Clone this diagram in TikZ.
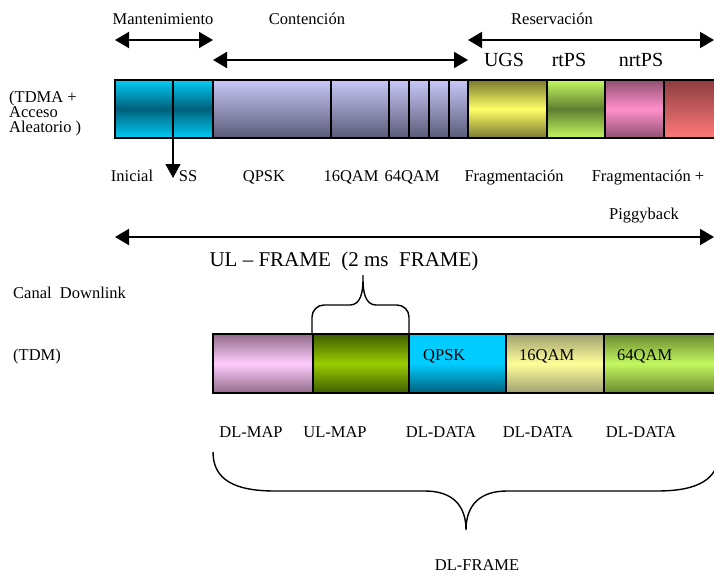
\documentclass[tikz,border=0pt]{standalone}
\usepackage{fontspec}
\setmainfont{Liberation Serif}
\usetikzlibrary{arrows.meta}
\definecolor{cyL}{HTML}{00CCF5}\definecolor{cyD}{HTML}{00607A}
\definecolor{puL}{HTML}{C8C8F8}\definecolor{puD}{HTML}{5A5A78}
\definecolor{ugL}{HTML}{FFFF66}\definecolor{ugD}{HTML}{7A7A30}
\definecolor{rtL}{HTML}{C4F860}\definecolor{rtD}{HTML}{5E7E30}
\definecolor{nrL}{HTML}{FF90CC}\definecolor{nrD}{HTML}{905070}
\definecolor{laL}{HTML}{FF7A7A}\definecolor{laD}{HTML}{8C3C40}
\definecolor{dmL}{HTML}{FFCCFF}\definecolor{dmD}{HTML}{906A88}
\definecolor{umL}{HTML}{99CC00}\definecolor{umD}{HTML}{3E5C00}
\definecolor{qpL}{HTML}{00CCFF}\definecolor{qpD}{HTML}{00607A}
\definecolor{q16L}{HTML}{FFFF99}\definecolor{q16D}{HTML}{A0A070}
\definecolor{q64L}{HTML}{C4F860}\definecolor{q64D}{HTML}{6A8A30}
\tikzset{
  seg/.style={draw=black, line width=1.3pt},
  sym/.style 2 args={top color=#2, bottom color=#2, middle color=#1},
  lbl/.style={font=\fontsize{16.5}{15}\selectfont, inner sep=0pt, anchor=base},
  big/.style={font=\fontsize{20}{22}\selectfont, inner sep=0pt, anchor=base},
  dim/.style={line width=2pt, {Triangle[length=14pt,width=16pt]}-{Triangle[length=14pt,width=16pt]}},
  brace/.style={line width=1.4pt},
}
\begin{document}
\begin{tikzpicture}[x=1pt,y=-1pt]
\useasboundingbox (0,0) rectangle (714,575);
\begin{scope}
\clip (0,0) rectangle (714,575);
% upper bar
\draw[seg, sym={cyD}{cyL}] (115,80) rectangle (173,138);
\draw[seg, sym={cyD}{cyL}] (173,80) rectangle (213,138);
\draw[seg, top color=puL, bottom color=puD] (213,80) rectangle (331,138);
\draw[seg, top color=puL, bottom color=puD] (331,80) rectangle (389,138);
\draw[seg, top color=puL, bottom color=puD] (389,80) rectangle (409,138);
\draw[seg, top color=puL, bottom color=puD] (409,80) rectangle (429,138);
\draw[seg, top color=puL, bottom color=puD] (429,80) rectangle (449,138);
\draw[seg, top color=puL, bottom color=puD] (449,80) rectangle (468,138);
\draw[seg, sym={ugL}{ugD}] (468,80) rectangle (547,138);
\draw[seg, sym={rtD}{rtL}] (547,80) rectangle (605,138);
\draw[seg, sym={nrL}{nrD}] (605,80) rectangle (664,138);
\draw[seg, top color=laD, bottom color=laL] (664,80) rectangle (730,138);
% lower bar
\draw[seg, sym={dmL}{dmD}] (213,334) rectangle (313,393);
\draw[seg, sym={umL}{umD}] (313,334) rectangle (409,393);
\draw[seg, top color=qpL, bottom color=qpD, middle color=qpL] (409,334) rectangle (506,393);
\draw[seg, sym={q16L}{q16D}] (506,334) rectangle (604,393);
\draw[seg, sym={q64L}{q64D}] (604,334) rectangle (730,393);
% coordinates
\coordinate (m1) at (115,40); \coordinate (m2) at (213,40);
\coordinate (c1) at (213,60); \coordinate (c2) at (468,60);
\coordinate (r1) at (468,40); \coordinate (r2) at (714,40);
\coordinate (u1) at (115,237); \coordinate (u2) at (714,237);
\coordinate (v1) at (173,138); \coordinate (v2) at (173,178);
\draw[dim] (m1) -- (m2);
\draw[dim] (c1) -- (c2);
\draw[dim] (r1) -- (r2);
\draw[dim] (u1) -- (u2);
\draw[line width=1.3pt, -{Triangle[length=14pt,width=15pt]}] (v1) -- (v2);
% braces
\draw[brace] (312,334) -- (312,317) to[out=90,in=180] (324,305) -- (350,305)
  to[out=0,in=-90] (363,280) -- (363,275) -- (363,280)
  to[out=-90,in=180] (376,305) -- (397,305) to[out=0,in=90] (409,317) -- (409,334);
\draw[brace] (213,452) .. controls (213,480) and (235,491) .. (275,491) -- (425,491)
  .. controls (452,491) and (466,505) .. (466,530)
  .. controls (466,505) and (480,491) .. (507,491) -- (657,491)
  .. controls (697,491) and (719,480) .. (719,452);
\end{scope}
% labels
\node[lbl] (tMan) at (163,25) {Mantenimiento};
\node[lbl] (tCon) at (307,25) {Contención};
\node[lbl] (tRes) at (552,25) {Reservación};
\node[big] (tUGS) at (504,67) {UGS};
\node[big] (trt) at (569,67) {rtPS};
\node[big] (tnrt) at (641,67) {nrtPS};
\node[lbl, anchor=base west, align=left] (tTDMA) at (9,132) {(TDMA +\\Acceso\\Aleatorio )};
\node[lbl] (tIni) at (132,181) {Inicial};
\node[lbl] (tSS) at (188,181) {SS};
\node[lbl] (tQ1) at (264,181) {QPSK};
\node[lbl] (tQ2) at (351,181) {16QAM};
\node[lbl] (tQ3) at (412,181) {64QAM};
\node[lbl] (tF1) at (514,181) {Fragmentación};
\node[lbl] (tF2) at (648,181) {Fragmentación +};
\node[lbl] (tPig) at (644,219) {Piggyback};
\node[font=\fontsize{21}{24}\selectfont, inner sep=0pt, anchor=base] (tUL) at (344,266) {UL – FRAME~~(2 ms~~FRAME)};
\node[lbl, anchor=base west] (tCan) at (13,298) {Canal~~Downlink};
\node[lbl, anchor=base west] (tTDM) at (13,360) {(TDM)};
\node[lbl, anchor=base west] (dQ1) at (423,360) {QPSK};
\node[lbl, anchor=base west] (dQ2) at (519,360) {16QAM};
\node[lbl, anchor=base west] (dQ3) at (617,360) {64QAM};
\node[lbl] (dl1) at (251,437) {DL-MAP};
\node[lbl] (dl2) at (335,437) {UL-MAP};
\node[lbl] (dl3) at (441,437) {DL-DATA};
\node[lbl] (dl4) at (538,437) {DL-DATA};
\node[lbl] (dl5) at (641,437) {DL-DATA};
\node[lbl] (dlf) at (477,570) {DL-FRAME};
\end{tikzpicture}
\end{document}
